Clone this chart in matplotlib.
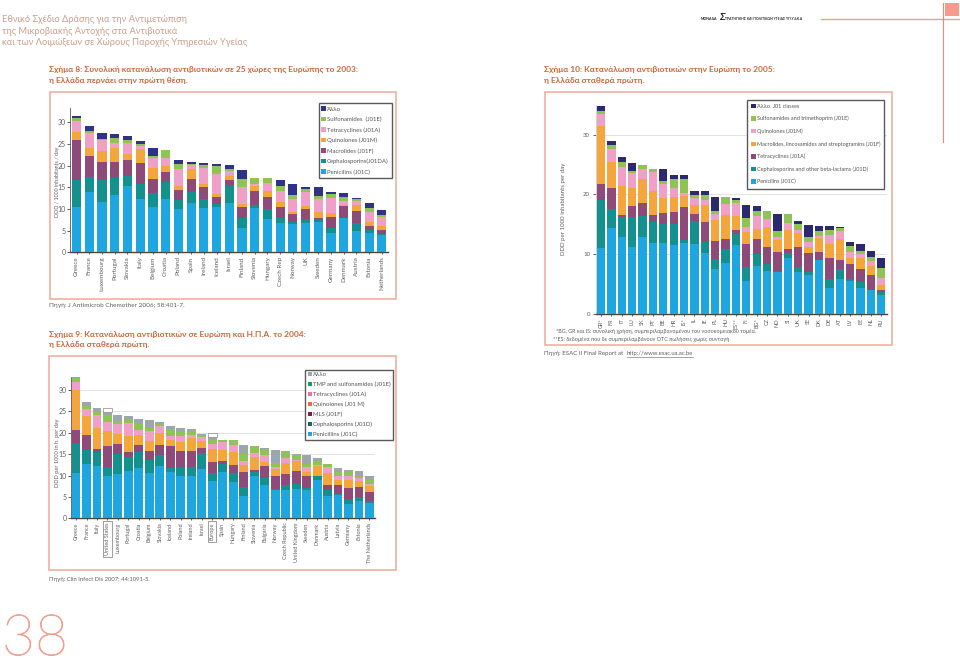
import numpy as np
import matplotlib
matplotlib.use("Agg")
import matplotlib.pyplot as plt
import matplotlib.patheffects as pe
from matplotlib.patches import Patch, Rectangle

plt.rcParams['font.family'] = ['Lato', 'Open Sans', 'DejaVu Sans']

W, H = 960, 658
GREY = '#5f5f5f'
SALMON = '#f0a898'
TITLE = '#c9683c'
HEAD = '#c8a090'

# ---------- Figure 8 ----------
c8_countries = ['Greece', 'France', 'Luxembourg', 'Portugal', 'Slovakia', 'Italy', 'Belgium', 'Croatia', 'Poland', 'Spain',
                'Ireland', 'Iceland', 'Israel', 'Finland', 'Slovenia', 'Hungary', 'Czech Rep', 'Norway', 'UK', 'Sweden',
                'Germany', 'Denmark', 'Austria', 'Estonia', 'Netherlands']
c8_pen = [10.5, 14, 11.5, 13.3, 15.3, 12.4, 10.5, 12.4, 9.9, 11.4, 10.2, 10.4, 11.4, 5.7, 10.2, 7.7, 6.8, 6.6, 6.8, 6.9, 4.4, 8, 5, 4.4, 3.9]
c8_ceph = [6.1, 3.4, 5.2, 3.9, 2.3, 3.3, 3.2, 3.9, 2.1, 2.4, 2.1, 0.8, 4, 2.3, 0.7, 2.2, 1, 0.5, 0.8, 0.5, 1.3, 0, 1.7, 0.7, 0.3]
c8_mac = [9.4, 4.9, 4.2, 3.7, 3.7, 5, 3.1, 2.2, 2.3, 3.2, 2.7, 1.5, 1.3, 2.4, 3.2, 2.8, 2.7, 1.7, 2.4, 0.6, 2.4, 2.6, 2.8, 1, 1]
c8_quin = [1.8, 1.7, 2.5, 3.1, 1.4, 3.1, 2.7, 1.5, 1.1, 2.2, 0.8, 0.7, 1, 0.8, 1.2, 1.5, 1, 0.5, 0.7, 1.2, 0.9, 0.3, 1.3, 0.9, 0.8]
c8_tet = [2.5, 3.5, 2.4, 1.3, 2.4, 0.6, 2.2, 1.8, 3.8, 0.9, 3.7, 4.6, 1.1, 3.8, 0.5, 1.8, 2.7, 2.9, 3.1, 3, 3.6, 1, 1, 2.4, 2.1]
c8_sulf = [0.7, 0.5, 0.4, 1.1, 0.8, 0.5, 0.4, 1.8, 1.1, 0.2, 0.6, 1.9, 0.4, 1.8, 1.4, 1.2, 1.2, 1, 0.8, 0.8, 0.8, 0.9, 0.6, 0.8, 0.6]
c8_other = [0.5, 1.2, 1.4, 0.9, 0.9, 0.8, 1.9, 0, 0.9, 0.5, 0.4, 0.4, 1, 2.1, 0, 0, 1.3, 2.6, 0.5, 2.1, 0.6, 0.9, 0.1, 1.1, 1.1]
c8_legend = ['Άλλο', 'Sulfonamides  (J01E)', 'Tetracyclines (J01A)', 'Quinolones (J01M)', 'Macrolides (J01F)',
             'Cephalosporins(J01DA)', 'Penicilins (J01C)']

# ---------- Figure 9 ----------
c9_countries = ['Greece', 'France', 'Italy', 'United States', 'Luxembourg', 'Portugal', 'Croatia', 'Belgium', 'Slovakia', 'Iceland',
                'Poland', 'Ireland', 'Israel', 'Europe', 'Spain', 'Hungary', 'Finland', 'Slovenia', 'Bulgaria', 'Norway',
                'Czech Republic', 'United Kingdom', 'Sweden', 'Denmark', 'Austria', 'Latvia', 'Germany', 'Estonia', 'The Netherlands']
c9_pen = [10.6, 12.8, 12.2, 9.8, 10.4, 11.1, 11.7, 10.5, 12.3, 10.9, 9.8, 10, 11.6, 8.8, 10.8, 8.6, 5.1, 9.8, 7.7, 6.6, 6.7, 6.8, 6.6, 8.9, 5.1, 5.4, 3.4, 4, 3.6]
c9_ceph = [7, 3.1, 3.4, 2.3, 4.6, 3.3, 3.7, 3.2, 2.4, 0.8, 2.1, 2, 3.6, 1.9, 1.9, 2.1, 2.1, 1, 1.7, 0.2, 1.2, 1.2, 0.5, 1.1, 1.5, 0.3, 1, 0.9, 0.4]
c9_mls = [3, 3.5, 0.6, 4.7, 2.3, 1.1, 1.7, 2, 2.4, 5.1, 3.9, 3.8, 1.2, 2.4, 0.7, 1.8, 3.6, 0.5, 2.8, 3, 2.4, 3, 2.8, 0, 1.2, 2.1, 2.7, 2.3, 2.2]
c9_quin = [9.4, 4.4, 4.9, 3.5, 2.5, 3.7, 2.3, 2.3, 2.9, 1.4, 2.1, 3, 1.6, 3, 2.5, 3.1, 1.7, 3.1, 1, 1.8, 2.7, 2.4, 1, 2.2, 2.9, 1.1, 1.9, 1.5, 1.3]
c9_tet = [1.9, 1.8, 3.1, 2.3, 2.3, 3, 1.2, 2.5, 1.5, 1.1, 1.3, 0.6, 1.1, 1.3, 2, 1.6, 1, 0.9, 1.7, 0.4, 1.2, 0.3, 1, 0.3, 1.4, 0.9, 0.9, 0.8, 0.6]
c9_tmp = [1, 0.7, 0.8, 1.5, 0.7, 0.8, 1.7, 0.7, 0.6, 1.5, 1.1, 0.9, 0.4, 0.9, 0.5, 1.2, 1.5, 1.6, 1, 1, 1.3, 1.2, 0.7, 0.9, 0.5, 1.1, 1.1, 0.7, 0.8]
c9_other = [0.1, 0.9, 0.8, 0.8, 1.3, 0.8, 0.9, 1.7, 0.4, 0.7, 0.9, 0.5, 0.3, 0.7, 0, 0, 2.2, 0, 0.5, 3, 0.2, 0.2, 2.2, 0.6, 0.1, 0.9, 0.4, 0.9, 1]
c9_gap = [0, 0, 0, 0.8, 0, 0, 0, 0, 0, 0, 0, 0, 0, 0.9, 0, 0, 0, 0, 0, 0, 0, 0, 0, 0, 0, 0, 0, 0, 0]
c9_legend = ['Άλλο', 'TMP and sulfonamides (J01E)', 'Tetracyclines (J01A)', 'Quinolones (J01 M)', 'MLS (J01F)',
             'Cephalosporins (J01D)', 'Penicillins (J01C)']

# ---------- Figure 10 ----------
c10_countries = ['GR*', 'FR', 'IT', 'LU', 'SK', 'PT', 'BE', 'HR', 'IS*', 'IL', 'IE', 'PL', 'HU', 'ES**', 'FI', 'BG*', 'CZ', 'NO', 'SI',
                 'UK', 'SE', 'DK', 'DE', 'AT', 'LV', 'EE', 'NL', 'RU']
c10_pen = [11, 14.3, 12.8, 11.2, 12.8, 11.8, 11.8, 11.5, 11.9, 11.7, 10.2, 7.6, 8.6, 11.5, 5.6, 8.1, 7.2, 7, 9.4, 7.1, 6.6, 9, 4.3, 5.9, 5.5, 4.4, 4, 3.1]
c10_ceph = [8, 3.2, 3.4, 5, 3.6, 3.6, 3.2, 3.6, 0.5, 3.8, 1.8, 1.6, 2.3, 1.8, 2.3, 2, 1.2, 0.2, 0.8, 0.8, 0.5, 0, 1.5, 1.7, 0.4, 0.9, 0, 0.5]
c10_tet = [2.7, 3.5, 0.4, 1.8, 2.2, 1.1, 1.9, 1.9, 5.5, 1.3, 3.4, 3, 1.7, 0.8, 3.8, 2.5, 2.8, 3.1, 0.7, 3.3, 3.1, 1.4, 3.5, 1.5, 2.5, 2.3, 2.6, 0.4]
c10_mac = [9.8, 4.5, 4.8, 3, 3.9, 4.1, 2.5, 2.6, 1.8, 1.5, 2.9, 3.6, 4, 2.3, 2, 1.6, 3.4, 2, 3.1, 2.3, 1, 2.3, 2.4, 3.4, 1, 1.7, 1.4, 0.9]
c10_quin = [1.9, 2.1, 3.2, 2.5, 1.7, 3.1, 2.4, 1.4, 0.6, 1.1, 0.7, 0.9, 1.8, 2.2, 0.9, 2.2, 1.3, 0.5, 1.3, 0.6, 0.9, 0.4, 1.5, 1.4, 1, 0.7, 0.8, 1.2]
c10_sulf = [0.6, 0.7, 0.8, 0.4, 0.8, 0.6, 0.5, 1.6, 2.2, 0.5, 0.9, 0.6, 1.1, 0.4, 1.5, 0.9, 1.4, 1, 1.4, 1, 0.7, 0.8, 0.9, 0.4, 0.9, 0.6, 0.7, 1.6]
c10_other = [0.7, 0.7, 0.8, 1.3, 0, 0, 1.9, 0.7, 0.8, 0.6, 0.6, 2.3, 0, 0.4, 2.1, 0.8, 0, 3, 0, 0.5, 2.1, 0.8, 0.6, 0.2, 0.8, 1.1, 1, 1.6]
c10_legend = ['Άλλο  J01 classes', 'Sulfonamides and trimethoprim (J01E)', 'Quinolones (J01M)',
              'Macrolides, lincosamides and streptogramins (J01F)', 'Tetracyclines (J01A)',
              'Cephalosporins and other beta-lactams (J01D)', 'Penicilins (J01C)']

BLUE, TEAL, PURPLE, ORANGE, PINK, GREEN = '#1ea6e0', '#14908e', '#8e4a78', '#f4a53c', '#f09fc6', '#8fc356'

fig = plt.figure(figsize=(W / 100, H / 100), dpi=100)
page = fig.add_axes([0, 0, 1, 1], zorder=0)
page.set_xlim(0, W)
page.set_ylim(H, 0)
page.axis('off')


def frame(x0, y0, x1, y1):
    page.add_patch(Rectangle((x0, y0), x1 - x0, y1 - y0, fc='white', ec=SALMON, lw=1.1))


def chart(left, right, top, base, xlim, ymax, cats, series, colors, yticks, width, fs, yfs, ypad):
    ax = fig.add_axes([left / W, 1 - base / H, (right - left) / W, (base - top) / H], zorder=2)
    ax.patch.set_alpha(0)
    x = np.arange(len(cats))
    bottom = np.zeros(len(cats))
    for vals, col in zip(series, colors):
        ax.bar(x, vals, width, bottom=bottom, color=col, linewidth=0, zorder=3)
        bottom += np.array(vals)
    ax.set_xlim(*xlim)
    ax.set_ylim(0, ymax)
    ax.set_yticks(yticks)
    ax.set_xticks(x)
    ax.set_xticklabels(cats, rotation=90, fontsize=fs, color=GREY)
    ax.tick_params(axis='y', labelsize=yfs, labelcolor=GREY, length=2, width=0.6, pad=ypad, color='#444')
    ax.tick_params(axis='x', length=1.5, width=0.6, pad=1.5, color='#444')
    for s in ('top', 'right'):
        ax.spines[s].set_visible(False)
    ax.spines['left'].set_linewidth(0.6)
    ax.spines['left'].set_color('#555')
    ax.spines['bottom'].set_linewidth(1.0)
    ax.spines['bottom'].set_color('#444')
    ax.grid(axis='y', color='#dddddd', lw=0.6, zorder=0)
    ax.set_axisbelow(True)
    return ax, bottom


def legend(ax, labels, colors, x, y, fs, spacing, hsize, gap, pad):
    handles = [Patch(fc=c, ec='none') for c in colors]
    leg = ax.legend(handles, labels, loc='upper left', bbox_to_anchor=(x, y), bbox_transform=page.transData,
                    borderaxespad=0, fontsize=fs, labelspacing=spacing, handlelength=hsize, handleheight=hsize,
                    handletextpad=gap, borderpad=pad, frameon=True, fancybox=False, framealpha=1,
                    edgecolor='#5a5a5a', labelcolor='#555555')
    leg.get_frame().set_linewidth(1.0)
    leg.set_zorder(10)
    return leg


frame(50, 91.5, 395.5, 299)
frame(48.5, 355.5, 395.5, 570)
frame(545, 92, 891.5, 345)

# Figure 8
colors8 = [BLUE, TEAL, PURPLE, ORANGE, PINK, GREEN, '#2e3388']
ax8, _ = chart(70, 388, 108.3, 252.3, (-0.52, 24.48), 33.2, c8_countries,
               [c8_pen, c8_ceph, c8_mac, c8_quin, c8_tet, c8_sulf, c8_other], colors8,
               [0, 5, 10, 15, 20, 25, 30], 0.72, 4.5, 5.0, 1)
ax8.grid(False)
legend(ax8, c8_legend, colors8[::-1], 318.5, 103.5, 4.3, 0.85, 0.74, 0.24, 0.48)

# Figure 9
colors9 = [BLUE, TEAL, PURPLE, ORANGE, PINK, GREEN, '#9ca6ad']
ax9, tops9 = chart(71, 375, 376.7, 518.3, (-0.48, 28.53), 33.1, c9_countries,
                   [c9_pen, c9_ceph, c9_mls, c9_quin, c9_tet, c9_tmp, c9_other], colors9,
                   [0, 5, 10, 15, 20, 25, 30], 0.85, 4.0, 5.0, 1)
ax9.bar(np.arange(len(c9_gap)), c9_gap, 0.85, bottom=tops9, color='white',
        edgecolor=['#888888' if g else 'none' for g in c9_gap], linewidth=0.5, zorder=3)
for lab, g in zip(ax9.get_xticklabels(), c9_gap):
    if g:
        lab.set_bbox(dict(fc='none', ec='#777777', lw=0.5, pad=1.2))
legend9 = ['#9ca6ad', '#12a064', '#ec6fa8', '#ee6a3c', '#7c1c52', '#0f6e60', BLUE]
legend(ax9, c9_legend, legend9, 305, 369.5, 4.3, 0.75, 0.65, 0.16, 0.45)

# Figure 10
colors10 = [BLUE, TEAL, PURPLE, ORANGE, PINK, GREEN, '#2a2a6c']
ax10, _ = chart(595.7, 886.7, 105, 314, (-0.51, 27.52), 34.95, c10_countries,
                [c10_pen, c10_ceph, c10_tet, c10_mac, c10_quin, c10_sulf, c10_other], colors10,
                [0, 10, 20, 30], 0.8, 4.0, 4.4, 2)
ax10.spines['left'].set_color('#cccccc')
legend10 = ['#2a2a6c', GREEN, PINK, ORANGE, PURPLE, TEAL, BLUE]
legend(ax10, c10_legend, legend10, 746.5, 99.5, 3.95, 1.3, 0.9, 0.24, 0.75)

# page text
for i, line in enumerate(['Εθνικό Σχέδιο Δράσης για την Αντιμετώπιση', 'της Μικροβιακής Αντοχής στα Αντιβιοτικά',
                          'και των Λοιμώξεων σε Χώρους Παροχής Υπηρεσιών Υγείας']):
    page.text(2, 20 + i * 11.4, line, fontsize=6.7, color=HEAD, va='center')
page.text(49, 69.5, 'Σχήμα 8: Συνολική κατανάλωση αντιβιοτικών σε 25 χώρες της Ευρώπης το 2003:', fontsize=6.05, color=TITLE,
          fontweight='bold', va='center')
page.text(49, 80, 'η Ελλάδα περνάει στην πρώτη θέση.', fontsize=6.05, color=TITLE, fontweight='bold', va='center')
page.text(49, 334, 'Σχήμα 9: Κατανάλωση αντιβιοτικών σε Ευρώπη και Η.Π.Α. το 2004:', fontsize=6.05, color=TITLE,
          fontweight='bold', va='center')
page.text(49, 344.5, 'η Ελλάδα σταθερά πρώτη.', fontsize=6.05, color=TITLE, fontweight='bold', va='center')
page.text(544, 69.5, 'Σχήμα 10: Κατανάλωση αντιβιοτικών στην Ευρώπη το 2005:', fontsize=6.05, color=TITLE,
          fontweight='bold', va='center')
page.text(544, 80, 'η Ελλάδα σταθερά πρώτη.', fontsize=6.05, color=TITLE, fontweight='bold', va='center')

page.text(57, 182, 'DDD / 1000 inhabitants / day', rotation=90, fontsize=3.9, color=GREY, ha='center', va='center')
page.text(57, 453, 'DDD per 1000 in h. per day', rotation=90, fontsize=4.1, color=GREY, ha='center', va='center')
page.text(563, 209, 'DDD per 1000 inhabitants per day', rotation=90, fontsize=4.4, color=GREY, ha='center', va='center')

page.text(49, 305, 'Πηγή: J Antimicrob Chemother 2006; 58:401-7.', fontsize=4.6, color=GREY, va='center')
page.text(49, 579, 'Πηγή: Clin Infect Dis 2007; 44:1091-5.', fontsize=4.2, color=GREY, va='center')
page.text(556, 331.5, '*BG, GR και IS: συνολική χρήση, συμπεριλαμβανομένου του νοσοκομειακού τομέα.', fontsize=3.85, color=GREY, va='center')
page.text(553, 339.5, '**ES: δεδομένα που δε συμπεριλαμβάνουν OTC πωλήσεις χωρίς συνταγή.', fontsize=3.9, color=GREY, va='center')
page.text(544.5, 354, 'Πηγή: ESAC II Final Report at', fontsize=4.4, color=GREY, va='center')
page.text(627, 354, 'http://www.esac.ua.ac.be', fontsize=4.2, color=GREY, va='center')
page.plot([627, 693], [356.8, 356.8], color=GREY, lw=0.4)

page.text(701, 18.5, 'ΜΟΝΑΔΑ', fontsize=2.6, fontweight='bold', color='#222222', va='center')
page.text(719, 17, 'Σ', fontsize=7, fontstyle='italic', fontweight='bold', color='#222222', va='center')
page.text(725, 18.5, 'ΤΡΑΤΗΓΙΚΗΣ ΚΑΙ ΠΟΛΙΤΙΚΩΝ ΥΓΕΙΑΣ ΥΠ.Υ.&Κ.Α', fontsize=2.45, fontweight='bold', color='#222222', va='center')
page.plot([821, 959], [18.8, 18.8], color='#eda27f', lw=1.0)
page.plot([942.7, 942.7], [3, 142], color='#ee8a70', lw=0.8)
page.add_patch(Rectangle((945, 3), 14, 13, fc='#f79a8c', ec='none'))

big = page.text(2, 655, '38', fontsize=41, color='#f2a090', fontweight='light', va='baseline')
big.set_path_effects([pe.withStroke(linewidth=0.6, foreground='#f2a090')])

fig.savefig('out.png', dpi=100)
